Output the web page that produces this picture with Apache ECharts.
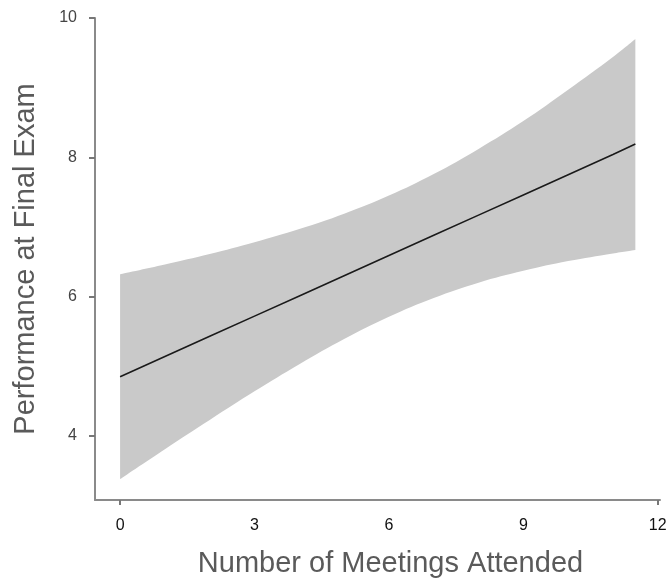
<!DOCTYPE html>
<html>
<head>
<meta charset="utf-8">
<script src="https://cdn.jsdelivr.net/npm/echarts@6/dist/echarts.min.js"></script>
<style>html,body{margin:0;padding:0;background:#fff}#c{width:671px;height:585px}</style>
</head>
<body>
<div id="c"></div>
<script>
const meetings  = [0, 1, 2, 3, 4, 5, 6, 7, 8, 9, 10, 11, 11.5];
const fitLine   = [4.85, 5.14, 5.43, 5.72, 6.01, 6.30, 6.59, 6.88, 7.17, 7.46, 7.75, 8.04, 8.19];
const upperBand = [6.32, 6.46, 6.61, 6.78, 6.97, 7.19, 7.45, 7.76, 8.12, 8.52, 8.97, 9.44, 9.70];
const lowerBand = [3.38, 3.81, 4.23, 4.64, 5.03, 5.39, 5.71, 5.98, 6.20, 6.37, 6.51, 6.62, 6.67];
const xTickLabels = [0, 3, 6, 9, 12];
const xTickMarks = [0, 12];
const yTickLabels = [4, 6, 8, 10];

const chart = echarts.init(document.getElementById('c'), null, {renderer: 'canvas'});
const font = 'Liberation Sans, Arial, Helvetica, sans-serif';
chart.setOption({
  animation: false,
  backgroundColor: '#ffffff',
  grid: {left: 95, right: 11, top: 18, bottom: 85},
  xAxis: {
    type: 'value', min: -0.56, max: 12.05, z: 10,
    name: 'Number of Meetings Attended', nameLocation: 'middle', nameGap: 49,
    nameTextStyle: {fontFamily: font, fontSize: 29, color: '#5a5a5a', padding: [0, 0, 0, 26]},
    axisLine: {show: true, onZero: false, lineStyle: {color: '#8a8a8a', width: 2}},
    axisTick: {show: true, length: 5, lineStyle: {color: '#777', width: 2}, customValues: xTickMarks},
    axisLabel: {fontFamily: font, fontSize: 16, color: '#111', margin: 18, customValues: xTickLabels},
    splitLine: {show: false}
  },
  yAxis: {
    type: 'value', min: 3.08, max: 10, z: 10,
    name: 'Performance at Final Exam', nameLocation: 'middle', nameGap: 55,
    nameTextStyle: {fontFamily: font, fontSize: 29, color: '#5a5a5a'},
    axisLine: {show: true, onZero: false, lineStyle: {color: '#8a8a8a', width: 2}},
    axisTick: {show: true, length: 6, lineStyle: {color: '#777', width: 2}, customValues: yTickLabels},
    axisLabel: {fontFamily: font, fontSize: 16, color: '#444', margin: 18, customValues: yTickLabels},
    splitLine: {show: false}
  },
  series: [
    {
      type: 'line', stack: 'band', smooth: 0.4, symbol: 'none', z: 1,
      encode: {x: 1, y: 0},
      data: meetings.map((x, i) => [lowerBand[i], x]),
      lineStyle: {width: 0, opacity: 0}, silent: true
    },
    {
      type: 'line', stack: 'band', smooth: 0.4, symbol: 'none', z: 1,
      encode: {x: 1, y: 0},
      data: meetings.map((x, i) => [upperBand[i] - lowerBand[i], x]),
      lineStyle: {width: 0, opacity: 0}, areaStyle: {color: '#c9c9c9', opacity: 1}, silent: true
    },
    {
      type: 'line', symbol: 'none', z: 3,
      data: meetings.map((x, i) => [x, fitLine[i]]),
      lineStyle: {color: '#1a1a1a', width: 1.6}
    }
  ]
});
</script>
</body>
</html>
